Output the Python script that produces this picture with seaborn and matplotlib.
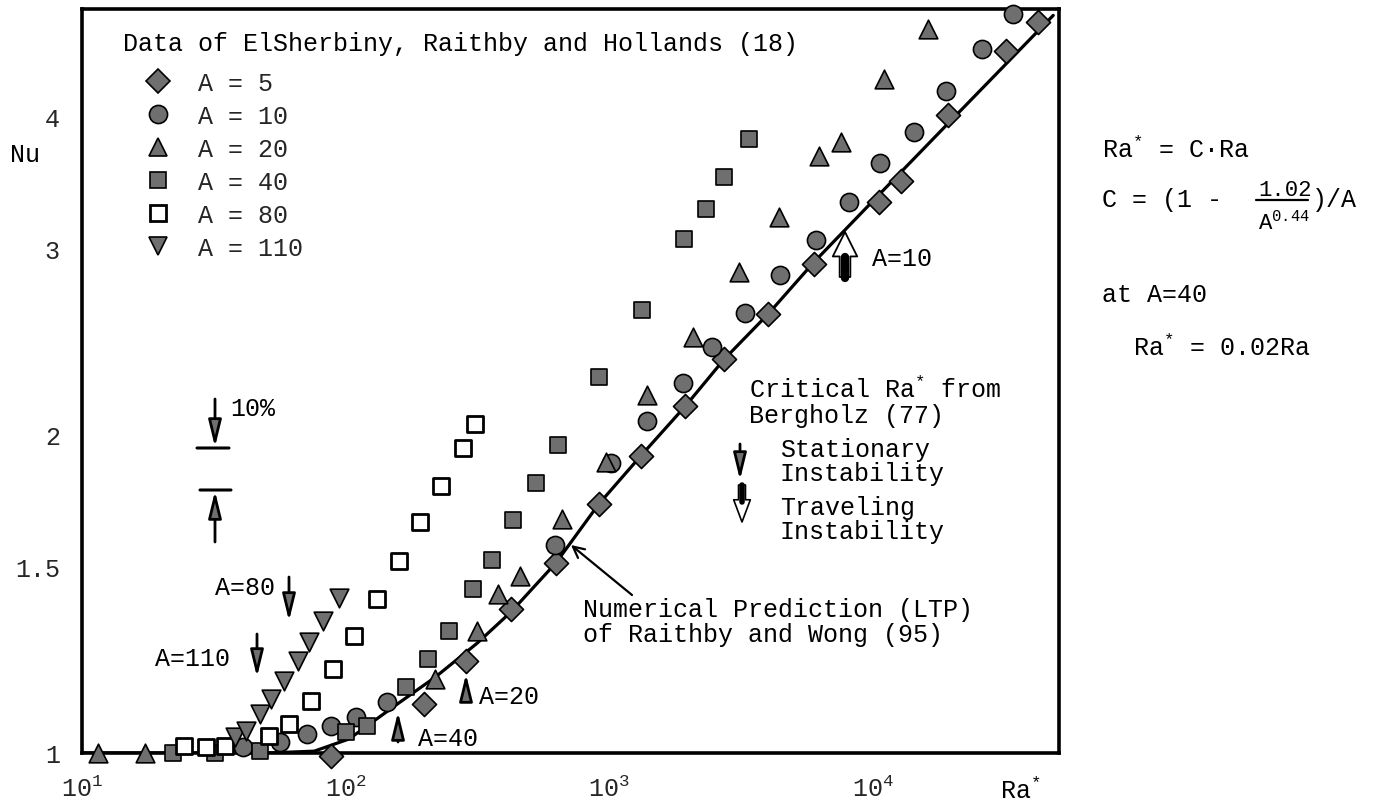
import matplotlib

matplotlib.use("Agg")

import matplotlib.pyplot as plt
from matplotlib.lines import Line2D
import seaborn as sns

# Nu vs Ra* (log-log), data of ElSherbiny, Raithby and Hollands
ra_a5 = [87.7, 199, 286, 424, 627, 912, 1315, 1945, 2729, 4000, 5970, 10520, 12740, 19190, 32060, 42400]
nu_a5 = [0.993, 1.113, 1.222, 1.368, 1.513, 1.720, 1.910, 2.130, 2.359, 2.602, 2.90, 3.32, 3.48, 4.02, 4.62, 4.92]

ra_a10 = [40.8, 56.2, 71.2, 87.7, 109, 143, 622, 1013, 1387, 1897, 2462, 3282, 4449, 6086, 8107, 10610, 14260, 19000, 26000, 34050]
nu_a10 = [1.013, 1.024, 1.042, 1.060, 1.082, 1.117, 1.573, 1.881, 2.062, 2.239, 2.422, 2.608, 2.833, 3.057, 3.321, 3.615, 3.87, 4.23, 4.634, 5.0]

ra_a20 = [11.5, 17.4, 219, 315, 379, 459, 661, 970, 1387, 2071, 3112, 4406, 6240, 7560, 10990, 16140]
nu_a20 = [1.0, 1.0, 1.175, 1.305, 1.414, 1.47, 1.665, 1.885, 2.18, 2.475, 2.852, 3.215, 3.67, 3.79, 4.34, 4.84]

ra_a40 = [22.1, 31.9, 47.2, 100.7, 120, 170, 206, 247, 305, 359, 431, 527, 638, 912, 1327, 1928, 2334, 2730, 3396]
nu_a40 = [1.0, 1.0, 1.004, 1.047, 1.06, 1.155, 1.227, 1.305, 1.43, 1.522, 1.661, 1.80, 1.956, 2.268, 2.625, 3.064, 3.27, 3.51, 3.81]

ra_a80 = [24.4, 29.6, 34.9, 51.2, 61, 73.8, 89.3, 108, 132, 159, 192, 231, 279, 310]
nu_a80 = [1.015, 1.013, 1.015, 1.038, 1.065, 1.12, 1.201, 1.29, 1.399, 1.519, 1.654, 1.789, 1.944, 2.048]

ra_a110 = [38, 41.8, 47.2, 52, 58.2, 65.7, 72.9, 82.4, 94.6]
nu_a110 = [1.035, 1.049, 1.089, 1.125, 1.170, 1.222, 1.274, 1.333, 1.402]

# numerical prediction (LTP) of Raithby and Wong
ltp_ra = [10, 50, 76, 103, 155, 219, 315, 424, 627, 912, 1315, 1945, 2729, 4000, 5970, 10000, 20000, 48300]
ltp_nu = [1.0, 1.0, 1.004, 1.031, 1.11, 1.18, 1.27, 1.36, 1.513, 1.72, 1.91, 2.13, 2.359, 2.602, 2.914, 3.33, 3.98, 4.99]

x_ticks = [10, 100, 1000, 10000]
x_tick_labels = [r"10$^{1}$", r"10$^{2}$", r"10$^{3}$", r"10$^{4}$"]
y_ticks = [1, 1.5, 2, 3, 4]
y_tick_labels = ["1", "1.5", "2", "3", "4"]

W, H = 1376, 804
GRAY = "#6f6f6f"
MONO = "Liberation Mono"

sns.set_style("white")
plt.rcParams["font.family"] = [MONO, "DejaVu Sans"]
plt.rcParams["mathtext.fontset"] = "custom"
plt.rcParams["mathtext.rm"] = MONO
plt.rcParams["mathtext.it"] = MONO
plt.rcParams["mathtext.bf"] = MONO

fig = plt.figure(figsize=(W / 100, H / 100), dpi=100)
ax = fig.add_axes([82 / W, 50 / H, (1059 - 82) / W, (754 - 10) / H])

series = [
    (ra_a5, nu_a5, "D", GRAY, 150, 1.2, "A = 5"),
    (ra_a10, nu_a10, "o", GRAY, 170, 1.2, "A = 10"),
    (ra_a20, nu_a20, "^", GRAY, 180, 1.2, "A = 20"),
    (ra_a40, nu_a40, "s", GRAY, 145, 1.2, "A = 40"),
    (ra_a80, nu_a80, "s", "white", 120, 2.0, "A = 80"),
    (ra_a110, nu_a110, "v", GRAY, 180, 1.2, "A = 110"),
]

sns.lineplot(x=ltp_ra, y=ltp_nu, color="black", lw=2.3, ax=ax, zorder=2)
for ra, nu, mk, fc, s, ew, _ in series:
    sns.scatterplot(x=ra, y=nu, marker=mk, s=s, color=fc, edgecolor="black",
                    linewidth=ew, ax=ax, zorder=3, clip_on=False, legend=False)

ax.set(xscale="log", yscale="log")
ax.set_xlim(10, 50800)
ax.set_ylim(1, 5.06)
ax.minorticks_off()
ax.set_xticks(x_ticks)
ax.set_xticklabels(x_tick_labels)
ax.set_yticks(y_ticks)
ax.set_yticklabels(y_tick_labels)
ax.tick_params(axis="both", direction="in", width=2, color="black")
ax.tick_params(axis="y", length=18, pad=16, labelsize=18)
ax.tick_params(axis="x", length=14, pad=16, labelsize=18)
for sp in ax.spines.values():
    sp.set_linewidth(2.6)
    sp.set_color("black")
ax.set_xlabel("")
ax.set_ylabel("")

handles = [Line2D([], [], ls="none", marker=mk, ms=s ** 0.5, mfc=fc, mec="black", mew=ew)
           for _, _, mk, fc, s, ew, _ in series]
labels = [lab for *_, lab in series]
ax.legend(handles, labels, loc="upper left", bbox_to_anchor=(123 / W, 1 - 72 / H),
          bbox_transform=fig.transFigure, frameon=False, fontsize=18,
          borderpad=0, borderaxespad=0, handlelength=2.8, handletextpad=0.2, labelspacing=0.36)


def ftext(x, y, s, size=18, ha="left"):
    fig.text(x / W, 1 - y / H, s, fontsize=size, ha=ha, va="center_baseline", color="black")


def farrow(x0, y0, x1, y1, style="-|>,head_length=0.9,head_width=0.22", fc=GRAY, lw=2.0, ms=18):
    ax.annotate("", xy=(x1, H - y1), xytext=(x0, H - y0), xycoords="figure pixels",
                textcoords="figure pixels",
                arrowprops=dict(arrowstyle=style, lw=lw, color="black", fc=fc,
                                mutation_scale=ms, shrinkA=0, shrinkB=0))


# legend title and axis labels
ftext(123, 42, "Data of ElSherbiny, Raithby and Hollands (18)")
ftext(10, 153, "Nu")
ftext(1000, 788, r"Ra$^{*}$")

# 10 % scale mark
farrow(215, 400, 215, 448)
farrow(197, 449, 229, 449, style="-", lw=2.2)
farrow(200, 491, 231, 491, style="-", lw=2.2)
farrow(215, 543, 215, 492)
ftext(230, 407, "10%")

# critical Ra* markers
farrow(289, 578, 289, 622)
ftext(275, 586, "A=80", ha="right")
farrow(257, 635, 257, 678)
ftext(230, 657, "A=110", ha="right")
farrow(398, 743, 398, 713)
ftext(418, 737, "A=40")
farrow(466, 700, 466, 675)
ftext(479, 695, "A=20")
farrow(845, 278, 845, 233, style="simple,head_length=0.8,head_width=0.8,tail_width=0.35",
       fc="white", lw=1.3, ms=22)
farrow(845, 279, 845, 258, style="-", lw=6)
ftext(872, 257, "A=10")

ftext(749, 387, r"Critical Ra$^{*}$ from")
ftext(749, 414, "Bergholz (77)")
farrow(740, 445, 740, 481)
ftext(780, 448, "Stationary")
ftext(780, 472, "Instability")
farrow(742, 486, 742, 523, style="simple,head_length=0.8,head_width=0.6,tail_width=0.25",
       fc="white", lw=1.2, ms=20)
farrow(742, 486, 742, 503, style="-", lw=4)
ftext(780, 505, "Traveling")
ftext(780, 530, "Instability")

# leader to the LTP curve
farrow(632, 596, 571, 546, style="->,head_length=0.5,head_width=0.25", lw=1.6, ms=16)
ftext(583, 608, "Numerical Prediction (LTP)")
ftext(583, 633, "of Raithby and Wong (95)")

# correlation on the right
ftext(1102, 147, r"Ra$^{*}$ = C·Ra")
ftext(1102, 197, "C = (1 -")
ftext(1258, 188, "1.02", size=16)
farrow(1256, 201, 1308, 201, style="-", lw=1.6)
ftext(1258, 220, r"A$^{0.44}$", size=16)
ftext(1312, 197, ")/A")
ftext(1102, 293, "at A=40")
ftext(1133, 345, r"Ra$^{*}$ = 0.02Ra")

fig.savefig("out.png", dpi=100, facecolor="white")
plt.close(fig)
